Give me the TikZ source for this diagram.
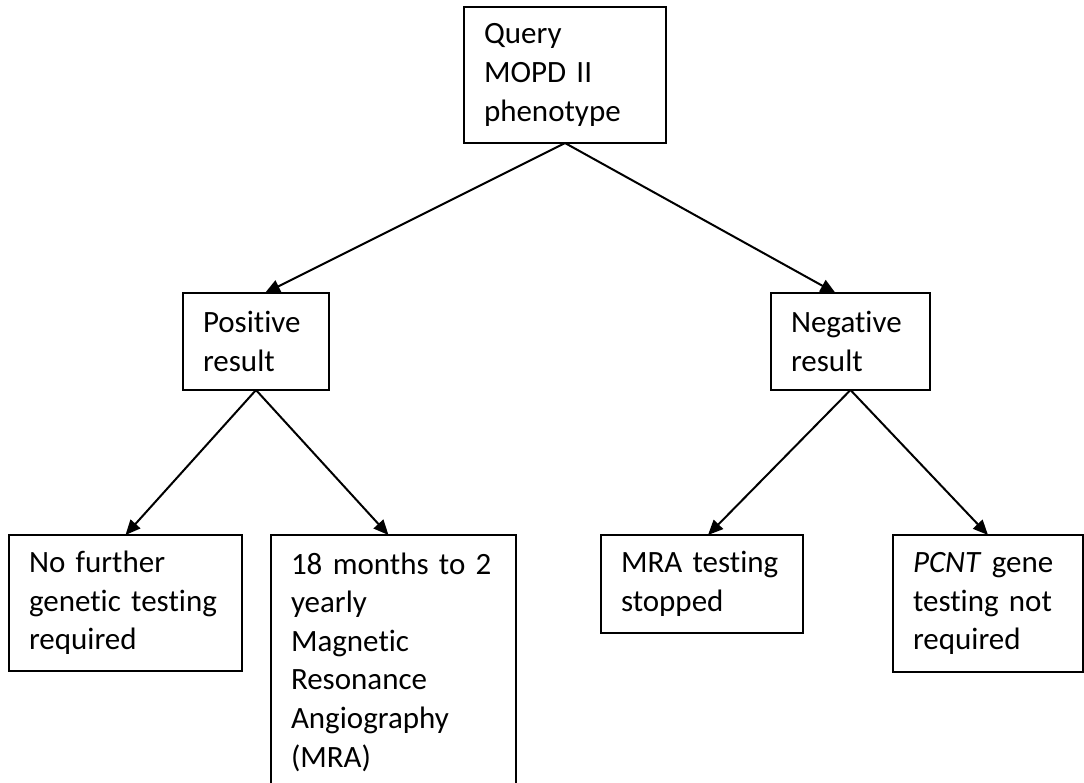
\documentclass[tikz,border=0pt]{standalone}
\usepackage{fontspec}
\setmainfont{Carlito}[Ligatures=NoCommon]
\usepackage{tikz}
\usetikzlibrary{
	positioning,    % posizionamento dei nodi
	arrows.meta     % punte di freccia (Triangle)
}

\begin{document}
\begin{tikzpicture}[
				x=0.5pt, y=-0.5pt,
				casella/.style={draw, line width=0.9pt, rectangle, anchor=north west,
					outer sep=0pt, inner xsep=10pt, inner ysep=0pt, align=left,
					font=\fontsize{15.5pt}{19.3pt}\selectfont},
				freccia/.style={-{Triangle[length=7.5pt, width=6.5pt]}, line width=1pt}
				]
				
				% --- Cornice ---
				\clip (0,0) rectangle (1084,783);
				\fill[white] (0,0) rectangle (1084,783);
				
				% --- Caselle ---
				\node[casella, text width=81pt, minimum height=68pt] (query) at (464,7)
				{Query\\MOPD II\\phenotype};
				\node[casella, text width=53pt, minimum height=48.5pt] (pos) at (183,293)
				{Positive\\result};
				\node[casella, text width=59.5pt, minimum height=48.5pt] (neg) at (771,293)
				{Negative\\result};
				\node[casella, text width=96.5pt, minimum height=68pt] (nofur) at (9,535)
				{No further\\genetic testing\\required};
				\node[casella, text width=102.5pt, minimum height=127pt] (mesi) at (271,535)
				{18 months to 2\\yearly\\Magnetic\\Resonance\\Angiography\\(MRA)};
				\node[casella, text width=81pt, minimum height=49pt] (mra) at (601,535)
				{MRA testing\\stopped};
				\node[casella, text width=75pt, minimum height=68.5pt] (pcnt) at (893,535)
				{\textit{PCNT} gene\\testing not\\required};
				
				% --- Frecce ---
				\draw[freccia] (query.south) -- ([xshift=4.5pt]pos.north);
				\draw[freccia] (query.south) -- ([xshift=-7.5pt]neg.north);
				\draw[freccia] (pos.south) -- (nofur.north);
				\draw[freccia] (pos.south) -- ([xshift=-2.5pt]mesi.north);
				\draw[freccia] (neg.south) -- ([xshift=3pt]mra.north);
				\draw[freccia] (neg.south) -- (pcnt.north);
				
			\end{tikzpicture}
\end{document}
